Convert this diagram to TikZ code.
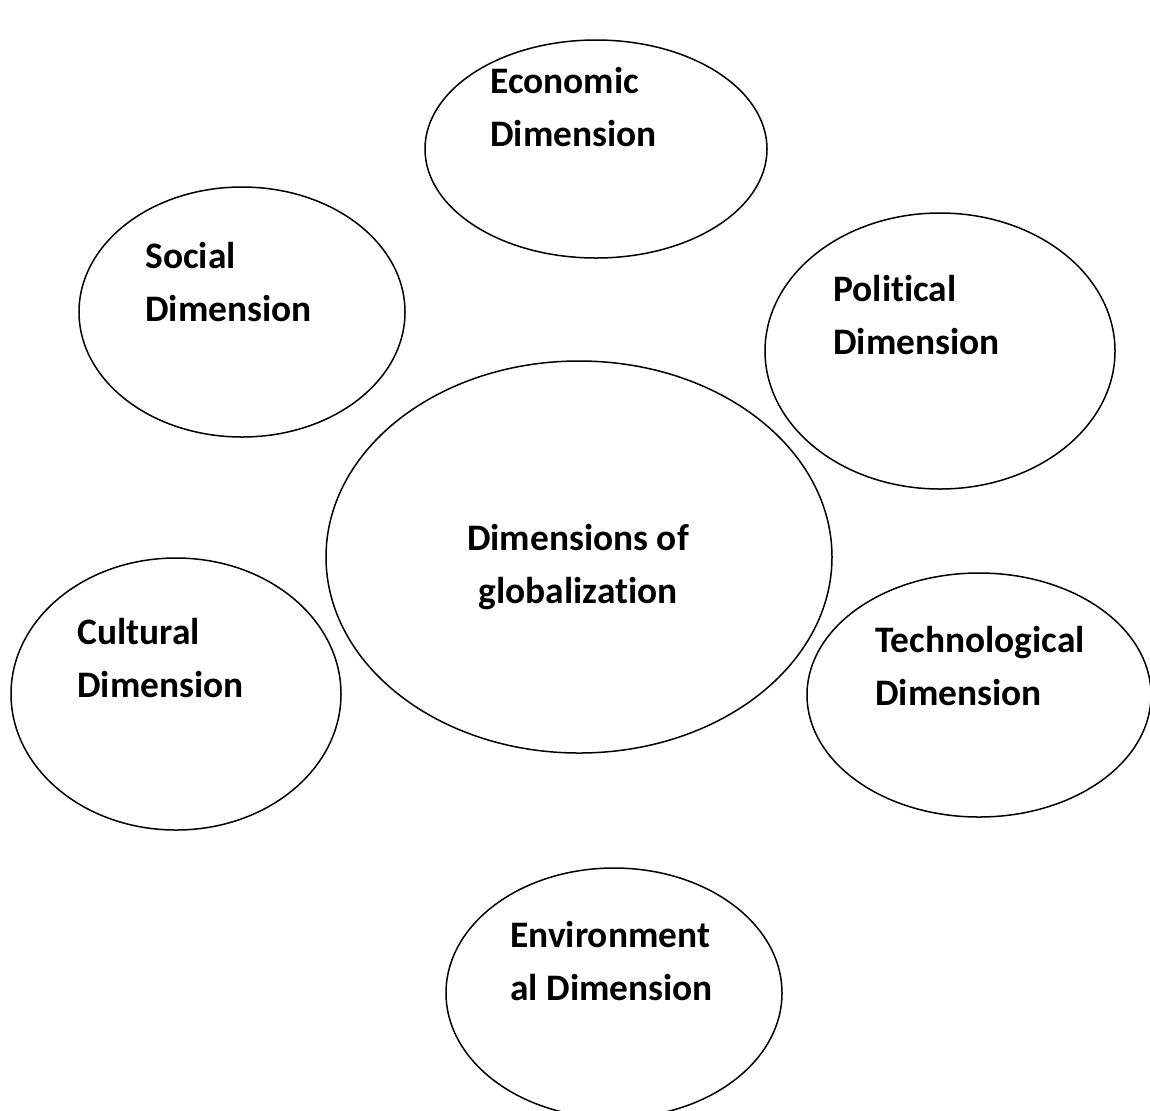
\documentclass[tikz,border=0pt]{standalone}
\usepackage{fontspec}
\setmainfont{Carlito}[Ligatures=NoCommon]
\usetikzlibrary{shapes.geometric}

\begin{document}
\begin{tikzpicture}[x = 0.5pt, y = -0.5pt]
				    \tikzstyle{dim}=[draw,ellipse,line width = .75pt,black!100,inner sep=0pt]
				    \tikzstyle{txt}=[font=\fontsize{18.7}{26.5}\selectfont\bfseries,align=left,inner sep=0pt,anchor=base west]
				    \useasboundingbox (0,0) rectangle (1150,1110);
				    \node[dim,minimum width=253pt,minimum height=196pt] (core) at (579,557) {};
				    \node[dim,minimum width=171pt,minimum height=109pt] (econ) at (596,149) {};
				    \node[dim,minimum width=163pt,minimum height=125pt] (soc) at (242,312) {};
				    \node[dim,minimum width=175pt,minimum height=138pt] (pol) at (940,351) {};
				    \node[dim,minimum width=165pt,minimum height=136pt] (cult) at (176,694) {};
				    \node[dim,minimum width=172pt,minimum height=122pt] (tech) at (979,695) {};
				    \node[dim,minimum width=168pt,minimum height=125pt] (env) at (614,993) {};
				    \node[txt,align=center,anchor=base] (coreT) at (578,603) {Dimensions of\\globalization};
				    \node[txt] (econT) at (490,146) {Economic\\Dimension};
				    \node[txt] (socT) at (145,321) {Social\\Dimension};
				    \node[txt] (polT) at (833,354) {Political\\Dimension};
				    \node[txt] (cultT) at (77,697) {Cultural\\Dimension};
				    \node[txt] (techT) at (875,705) {Technological\\Dimension};
				    \node[txt] (envT) at (510,1000) {Environment\\al Dimension};
				\end{tikzpicture}
\end{document}
